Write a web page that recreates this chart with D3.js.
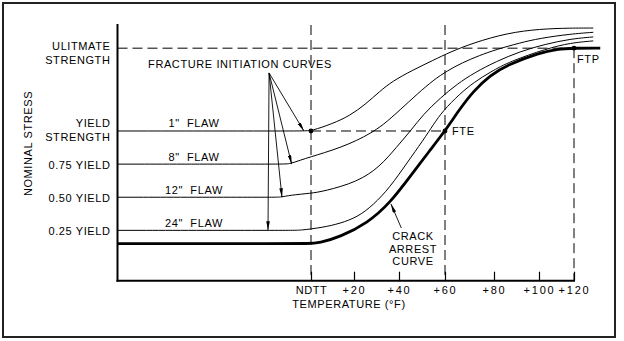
<!DOCTYPE html>
<html><head><meta charset="utf-8">
<script src="https://cdn.jsdelivr.net/npm/d3@7"></script>
<style>
body{margin:0;background:#fff}
svg{display:block;background:#fff}
text{font-family:"Liberation Sans",Arial,sans-serif;font-size:11px;fill:#000;letter-spacing:0.6px}
</style>
</head><body>
<svg id="c" width="624" height="341"></svg>
<script>
// ---- data (temperature relative to NDTT in °F, stress as fraction of yield) ----
const tempTicks = [0, 20, 40, 60, 80, 100, 120];
const tempTickLabels = ["NDTT", "+20", "+40", "+60", "+80", "+100", "+120"];
const stressLevels = [1.0, 0.75, 0.5, 0.25];
const levelLabels = ["YIELD", "0.75 YIELD", "0.50 YIELD", "0.25 YIELD"];
const flawLabels = ['1"', '8"', '12"', '24"'];
const ultimateStress = 1.625;
const arrestLevel = 0.15;
const ndttPoint = [0, 1.0];
const ftePoint = [60, 1.0];
const ftpPoint = [120, 1.625];
const initiationOrigin = [-19.5, 1.438];
const initiationTips = [[-3.3, 1.0], [-9, 0.75], [-13.5, 0.5], [-20, 0.25]];
const arrestPointer = [[41, 0.268], [36.4, 0.45]];

const flaw1 = [[-90,1.0],[-3,1.0],[0,1.0],[10,1.055],[18,1.115],[25,1.2],[31.5,1.3],[37,1.375],[46,1.46],[55,1.535],[62,1.595],[71.5,1.665],[86,1.74],[100.5,1.77],[118,1.777],[131,1.777]];
const flaw8 = [[-90,0.75],[-14,0.75],[-10,0.75],[-5,0.78],[0,0.805],[6,0.835],[13.5,0.875],[21.5,0.93],[27,0.98],[33,1.045],[40.5,1.16],[48,1.28],[55,1.385],[61,1.455],[67,1.515],[74,1.57],[81,1.615],[91.5,1.665],[100.5,1.70],[118,1.732],[131,1.745]];
const flaw12 = [[-90,0.5],[-18,0.5],[-14,0.5],[-10,0.515],[0,0.53],[6,0.545],[21.5,0.615],[31.5,0.73],[39,0.88],[45,1.0],[50.5,1.125],[58,1.25],[65,1.355],[72,1.44],[81,1.525],[91.5,1.6],[103.5,1.655],[118,1.695],[131,1.71]];
const flaw24 = [[-90,0.25],[-9,0.25],[-5,0.25],[5.5,0.272],[13.5,0.302],[21.5,0.35],[28.5,0.44],[36,0.575],[43.5,0.76],[50.5,0.93],[55,1.05],[59,1.15],[66,1.28],[72,1.37],[78.5,1.445],[87,1.525],[104.5,1.622],[118,1.665],[131,1.68]];
const arrestCurve = [[-90,0.15],[-8,0.15],[-2,0.15],[4,0.155],[13.5,0.2],[26,0.305],[36,0.455],[46,0.685],[53.5,0.855],[60,1.0],[66,1.165],[71.5,1.3],[78.5,1.42],[86,1.5],[100.5,1.59],[110,1.618],[120,1.626],[135,1.626]];
const flawCurves = [flaw1, flaw8, flaw12, flaw24];

// ---- scales ----
const x = d3.scaleLinear()
  .domain([-90, 0, 20, 40, 60, 80, 100, 120, 140])
  .range([117.5, 311, 354, 399, 445, 494, 539, 574, 609]);
const y = d3.scaleLinear().domain([-0.13, 1.8]).range([280.7, 25]);

const svg = d3.select("#c");
// frame
svg.append("rect").attr("x", 3).attr("y", 3).attr("width", 612).attr("height", 334)
  .attr("fill", "none").attr("stroke", "#222").attr("stroke-width", 2);

const defs = svg.append("defs");
defs.append("marker").attr("id", "arr").attr("viewBox", "0 0 10 4")
  .attr("refX", 10).attr("refY", 2).attr("markerWidth", 9).attr("markerHeight", 3.6)
  .attr("markerUnits", "userSpaceOnUse").attr("orient", "auto")
  .append("path").attr("d", "M0,0 L10,2 L0,4 Z").attr("fill", "#000");

const dash = "10,5";
const xMin = x.domain()[0];
// dashed reference lines
svg.append("line").attr("x1", x(xMin)).attr("x2", x(ftpPoint[0]))
  .attr("y1", y(ultimateStress)).attr("y2", y(ultimateStress))
  .attr("stroke", "#000").attr("stroke-dasharray", dash);
svg.append("line").attr("x1", x(ndttPoint[0])).attr("x2", x(ftePoint[0]))
  .attr("y1", y(1)).attr("y2", y(1))
  .attr("stroke", "#000").attr("stroke-dasharray", dash);
[[ndttPoint[0], 1.8], [ftePoint[0], 1.8], [ftpPoint[0], ultimateStress]].forEach(([t, top]) => {
  svg.append("line").attr("x1", x(t)).attr("x2", x(t))
    .attr("y1", y(top)).attr("y2", y(-0.13))
    .attr("stroke", "#000").attr("stroke-dasharray", dash);
});

// curves
const line = d3.line().x(d => x(d[0])).y(d => y(d[1])).curve(d3.curveBasis);
flawCurves.forEach(c => {
  svg.append("path").attr("d", line(c)).attr("fill", "none")
    .attr("stroke", "#000").attr("stroke-width", 1);
});
svg.append("path").attr("d", line(arrestCurve)).attr("fill", "none")
  .attr("stroke", "#000").attr("stroke-width", 2.8);

// axes
const axisG = svg.append("g").attr("transform", `translate(0,${y(-0.13)})`)
  .call(d3.axisBottom(x).tickValues(tempTicks)
    .tickFormat((d, i) => tempTickLabels[i])
    .tickSizeInner(-9).tickSizeOuter(0).tickPadding(6));
axisG.select(".domain").remove();
axisG.attr("font-family", null).attr("font-size", null);
axisG.selectAll(".tick line").attr("stroke", "#000").attr("stroke-width", 1.2);
axisG.selectAll(".tick text").attr("fill", "#000")
  .style("letter-spacing", (d) => d === 0 ? "0.6px" : "1.8px");

svg.append("line").attr("x1", x(xMin)).attr("x2", x(120))
  .attr("y1", y(-0.13)).attr("y2", y(-0.13))
  .attr("stroke", "#000").attr("stroke-width", 2).attr("stroke-linecap", "square");
svg.append("line").attr("x1", x(xMin)).attr("x2", x(xMin))
  .attr("y1", y(1.8)).attr("y2", y(-0.13))
  .attr("stroke", "#000").attr("stroke-width", 2).attr("stroke-linecap", "square");

// dots
[ndttPoint, ftePoint, ftpPoint].forEach(p => {
  svg.append("circle").attr("cx", x(p[0])).attr("cy", y(p[1])).attr("r", 2.4).attr("fill", "#000");
});

// arrows
initiationTips.forEach(p => {
  svg.append("line").attr("x1", x(initiationOrigin[0])).attr("y1", y(initiationOrigin[1]))
    .attr("x2", x(p[0])).attr("y2", y(p[1]))
    .attr("stroke", "#000").attr("stroke-width", 0.9).attr("marker-end", "url(#arr)");
});
svg.append("line").attr("x1", x(arrestPointer[0][0])).attr("y1", y(arrestPointer[0][1]))
  .attr("x2", x(arrestPointer[1][0])).attr("y2", y(arrestPointer[1][1]))
  .attr("stroke", "#000").attr("stroke-width", 0.9).attr("marker-end", "url(#arr)");

// text
const lx = x(xMin) - 7;
function txt(s, tx, ty, anchor) {
  return svg.append("text").attr("x", tx).attr("y", ty).attr("text-anchor", anchor || "start").text(s);
}
txt("ULITMATE", lx, y(ultimateStress) + 2, "end");
txt("STRENGTH", lx, y(ultimateStress) + 16, "end");
stressLevels.forEach((s, i) => {
  if (i === 0) {
    txt(levelLabels[i], lx, y(s) - 3.5, "end");
    txt("STRENGTH", lx, y(s) + 10.5, "end");
  } else {
    txt(levelLabels[i], lx, y(s) + 4.5, "end");
  }
  txt(flawLabels[i] + "\u00a0 FLAW", 194, y(s) - 3.5, "middle");
});
txt("FRACTURE INITIATION CURVES", 240, 68, "middle");
svg.append("text").attr("transform", "translate(32,143.5) rotate(-90)")
  .attr("text-anchor", "middle").text("NOMINAL STRESS");
txt("TEMPERATURE (°F)", 349, 308, "middle");
txt("FTE", x(ftePoint[0]) + 7, y(ftePoint[1]) + 4.5);
txt("FTP", x(ftpPoint[0]) + 3, y(ftpPoint[1]) + 15);
txt("CRACK", 413, 240, "middle");
txt("ARREST", 413, 253, "middle");
txt("CURVE", 413, 265, "middle");
</script>
</body></html>
